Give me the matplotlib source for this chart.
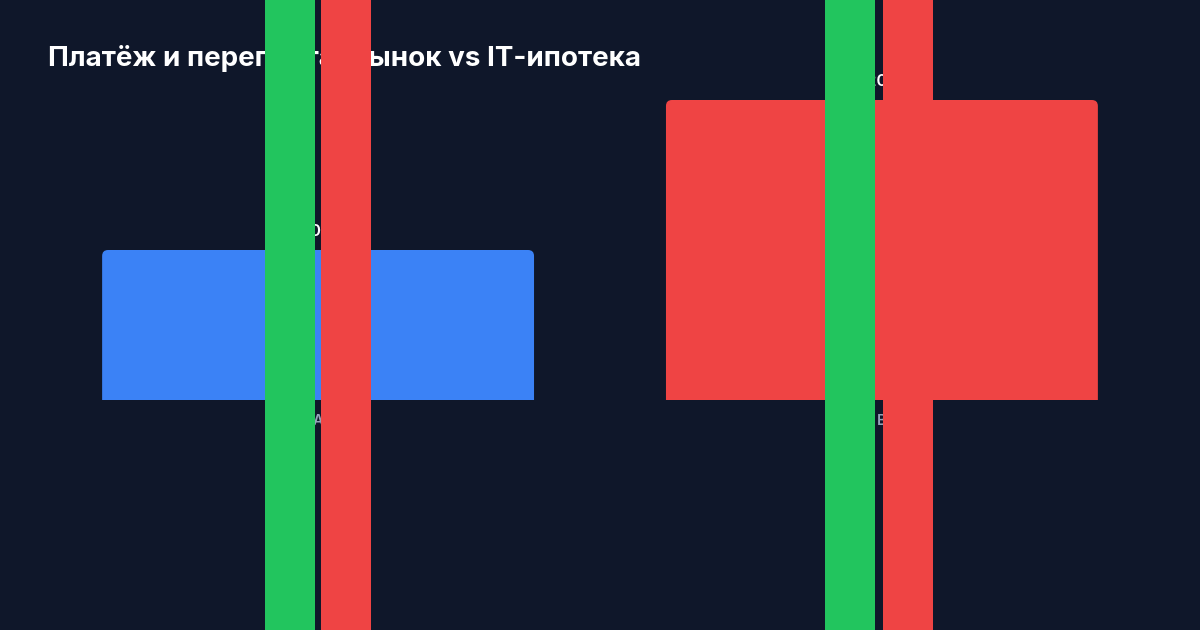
import matplotlib
matplotlib.use("Agg")
import matplotlib.pyplot as plt
from matplotlib.path import Path
from matplotlib.patches import PathPatch, Rectangle
from matplotlib.transforms import IdentityTransform

# ---- data ----
categories = ["A", "B"]
values = [100, 200]
value_labels = ["100", "200"]
title = "Платёж и переплата: рынок vs IT-ипотека"

# ---- style ----
BG = "#0f172a"
BAR_COLORS = ["#3b82f6", "#ef4444"]
GREEN = "#22c55e"
RED = "#ef4444"
W, H = 1200, 630

plt.rcParams["font.family"] = ["Inter", "DejaVu Sans"]

fig = plt.figure(figsize=(W / 100, H / 100), dpi=100, facecolor=BG)
ax = fig.add_axes([48 / W, 230 / H, 1104 / W, 300 / H])
ax.set_facecolor(BG)
ax.set_xlim(-0.479, 1.479)
ax.set_ylim(0, max(values))
for s in ax.spines.values():
    s.set_visible(False)
ax.set_yticks([])

x = list(range(len(categories)))
bars = ax.bar(x, values, width=0.766, color=BAR_COLORS)
ax.set_xticks(x)
ax.set_xticklabels(categories, color="#94a3b8", fontsize=10.5, fontweight="semibold")
ax.tick_params(axis="x", length=0, pad=10)

fig.canvas.draw()

# rounded-top bars
r = 6.0
for b, c in zip(bars, BAR_COLORS):
    (x0, y0), (x1, y1) = ax.transData.transform([(b.get_x(), 0), (b.get_x() + b.get_width(), b.get_height())])
    verts = [
        (x0, y0), (x0, y1 - r), (x0, y1), (x0 + r, y1),
        (x1 - r, y1), (x1, y1), (x1, y1 - r), (x1, y0), (x0, y0),
    ]
    codes = [Path.MOVETO, Path.LINETO, Path.CURVE3, Path.CURVE3,
             Path.LINETO, Path.CURVE3, Path.CURVE3, Path.LINETO, Path.CLOSEPOLY]
    b.set_visible(False)
    fig.add_artist(PathPatch(Path(verts, codes), facecolor=c, edgecolor="none",
                             transform=IdentityTransform()))

for xi, v, lab in zip(x, values, value_labels):
    ax.annotate(lab, (xi, v), xytext=(0, 8), textcoords="offset points",
                ha="center", va="bottom", color="white", fontsize=12,
                fontweight="semibold", annotation_clip=False)

fig.text(48 / W, 1 - 58 / H, title, color="white", fontsize=20,
         fontweight="bold", ha="left", va="center")

# vertical strips overlay
for (px0, px1), col in [((265, 315), GREEN), ((321, 371), RED),
                        ((825, 875), GREEN), ((883, 933), RED)]:
    fig.add_artist(Rectangle((px0 / W, 0), (px1 - px0) / W, 1, facecolor=col,
                             edgecolor="none", transform=fig.transFigure, zorder=10))

fig.savefig("out.png", dpi=100, facecolor=BG)
